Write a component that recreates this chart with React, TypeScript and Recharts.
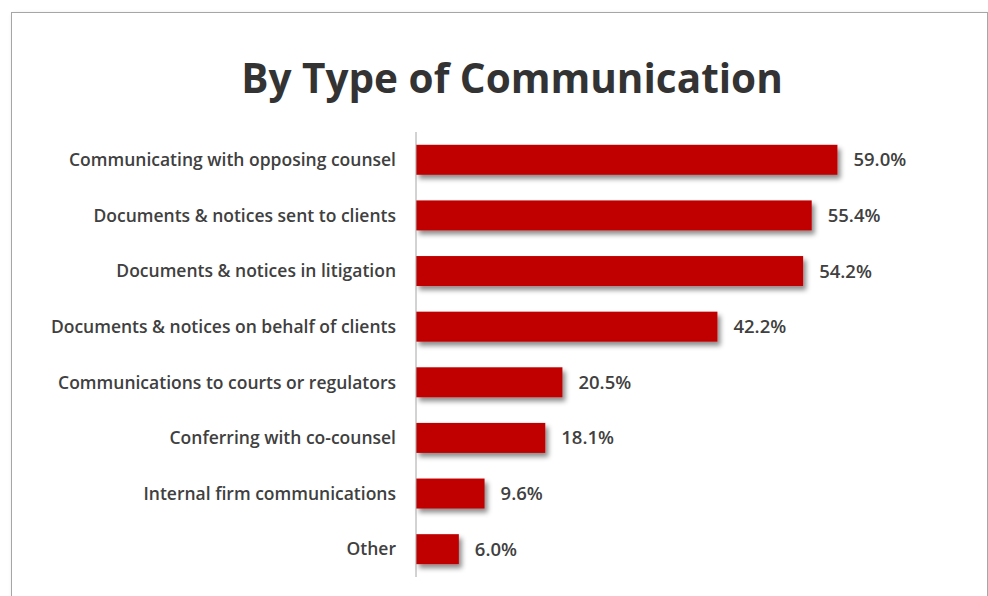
import React from "react";
import { BarChart, Bar, XAxis, YAxis, LabelList } from "recharts";

const categories = [
  "Communicating with opposing counsel",
  "Documents & notices sent to clients",
  "Documents & notices in litigation",
  "Documents & notices on behalf of clients",
  "Communications to courts or regulators",
  "Conferring with co-counsel",
  "Internal firm communications",
  "Other",
];
const values = [59.0, 55.4, 54.2, 42.2, 20.5, 18.1, 9.6, 6.0];

const data = categories.map((name, i) => ({ name, value: values[i] }));

const FONT = "'Open Sans', 'Noto Sans', sans-serif";

const ShadowBar = (props: any) => {
  const { x, y, width, height, fill } = props;
  if (width == null || width <= 0) return null;
  return <rect x={x} y={y} width={width} height={height} fill={fill} filter="url(#barShadow)" />;
};

export default function App() {
  return (
    <div style={{ position: "absolute", left: 0, top: 0, width: 988, height: 596, overflow: "hidden", background: "#fff", fontFamily: FONT }}>
      <svg width={0} height={0} style={{ position: "absolute" }}>
        <defs>
          <filter id="barShadow" x="-10%" y="-30%" width="130%" height="190%">
            <feDropShadow dx={3} dy={4} stdDeviation={2.5} floodColor="#000" floodOpacity={0.45} />
          </filter>
        </defs>
      </svg>
      <div
        style={{
          position: "absolute",
          left: 11,
          top: 12,
          width: 975,
          height: 700,
          border: "1px solid #a6a6a6",
          boxShadow: "2px 2px 4px rgba(0,0,0,0.25)",
          background: "#fff",
        }}
      />
      <div
        style={{
          position: "absolute",
          left: 212,
          top: 57,
          width: 600,
          textAlign: "center",
          fontSize: 40.5,
          lineHeight: "42px",
          fontWeight: 700,
          color: "#333333",
          fontFamily: FONT,
        }}
      >
        By Type of Communication
      </div>
      <div style={{ position: "absolute", left: 0, top: 0 }}>
        <BarChart
          width={988}
          height={596}
          data={data}
          layout="vertical"
          margin={{ top: 132, right: 72, bottom: 19, left: 0 }}
          barCategoryGap="23%"
        >
          <XAxis type="number" domain={[0, 70]} hide />
          <YAxis
            type="category"
            dataKey="name"
            width={416}
            tickSize={0}
            tickMargin={20}
            axisLine={{ stroke: "#a6a6a6", strokeWidth: 1 }}
            tickLine={false}
            interval={0}
            tick={{ fill: "#404040", fontSize: 17.5, fontWeight: 600, fontFamily: FONT }}
          />
          <Bar dataKey="value" fill="#C00000" isAnimationActive={false} shape={<ShadowBar />}>
            <LabelList
              dataKey="value"
              position="right"
              offset={16}
              formatter={(v: any) => `${Number(v).toFixed(1)}%`}
              style={{ fill: "#404040", fontSize: 18.5, fontWeight: 600, fontFamily: FONT }}
            />
          </Bar>
        </BarChart>
      </div>
    </div>
  );
}
